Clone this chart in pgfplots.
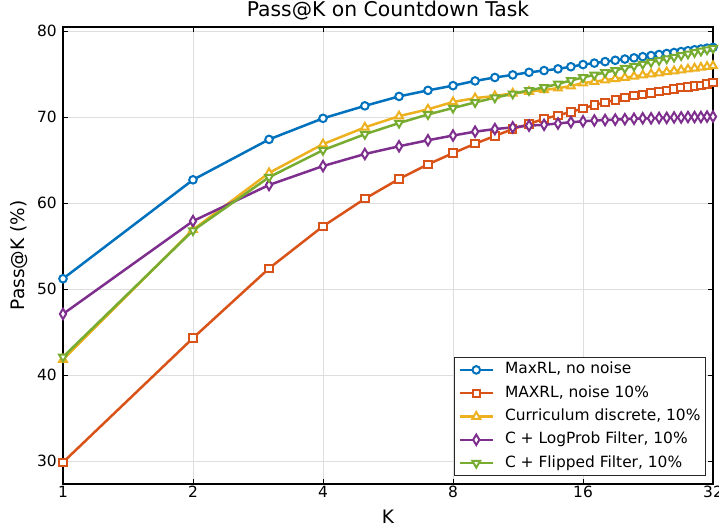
\documentclass[border=0pt]{standalone}
\usepackage{fontspec}
\setmainfont{DejaVu Sans}
\usepackage{pgfplots}
\pgfplotsset{compat=1.18}
\usepackage{pgfplotstable}
\definecolor{cblue}{HTML}{0072BD}
\definecolor{cred}{HTML}{D95319}
\definecolor{corange}{HTML}{EDB120}
\definecolor{cpurple}{HTML}{7E2F8E}
\definecolor{cgreen}{HTML}{77AC30}

\pgfplotstableread{
K b r o p g
1 51.2 29.85 41.8 47.1 42.1
2 62.7 44.3 56.9 57.9 56.8
3 67.4 52.4 63.5 62.1 63.0
4 69.85 57.3 66.85 64.3 66.15
5 71.3 60.5 68.8 65.7 68.0
6 72.4 62.8 70.1 66.6 69.3
7 73.1 64.5 70.9 67.3 70.3
8 73.65 65.8 71.75 67.85 71.05
9 74.2 66.9 72.2 68.3 71.7
10 74.6 67.8 72.45 68.6 72.25
11 74.9 68.6 72.75 68.8 72.7
12 75.2 69.2 72.95 69.0 73.1
13 75.4 69.8 73.15 69.1 73.45
14 75.6 70.2 73.35 69.25 73.85
15 75.85 70.6 73.6 69.4 74.25
16 76.1 71.0 73.95 69.5 74.6
17 76.27 71.4 74.12 69.6 74.9
18 76.44 71.7 74.29 69.65 75.18
19 76.6 72.0 74.45 69.7 75.44
20 76.74 72.3 74.59 69.75 75.69
21 76.88 72.5 74.73 69.8 75.93
22 77.02 72.65 74.87 69.85 76.16
23 77.15 72.8 75.0 69.85 76.38
24 77.27 73.0 75.12 69.9 76.59
25 77.39 73.1 75.24 69.9 76.79
26 77.5 73.25 75.35 69.95 76.98
27 77.61 73.4 75.46 69.95 77.17
28 77.71 73.5 75.56 70.0 77.35
29 77.82 73.6 75.67 70.0 77.52
30 77.91 73.7 75.76 70.0 77.68
31 78.01 73.85 75.86 70.05 77.84
32 78.1 74.0 75.95 70.05 78.0
}\data

\begin{document}
\begin{tikzpicture}
\path[use as bounding box] (0,0) rectangle (719bp,525bp);
\begin{axis}[
  at={(63bp,41bp)}, anchor=south west,
  width=650bp, height=457bp, scale only axis,
  xmode=log, log basis x=2, xmin=1, xmax=32,
  ymin=27.33, ymax=80.47,
  xtick={1,2,4,8,16,32}, xticklabels={1,2,4,8,16,32},
  ytick={30,40,50,60,70,80},
  xminorticks=false, yminorticks=false,
  tick align=inside,
  major tick length=5bp,
  tick style={black, line width=0.9bp},
  axis line style={black, line width=1.3bp},
  grid=major, grid style={line width=0.8bp, color=black!13},
  /pgf/number format/assume math mode=true,
  ticklabel style={font=\fontsize{15.5}{18}\selectfont},
  xticklabel style={yshift=1.5bp},
  yticklabel style={xshift=-2.8bp},
  title={Pass@K on Countdown Task},
  title style={font=\fontsize{20.4}{24}\selectfont, at={(axis description cs:0.5,1)}, anchor=base, yshift=5bp},
  xlabel={K}, ylabel={Pass@K (\%)},
  xlabel style={font=\fontsize{18.6}{22}\selectfont, at={(axis description cs:0.5,0)}, anchor=center, yshift=-32.7bp},
  ylabel style={font=\fontsize{18.6}{22}\selectfont, at={(axis description cs:0,0.5)}, anchor=center, yshift=43.5bp},
  every axis plot/.append style={line width=2.5bp},
  legend style={at={(axis description cs:0.989,0.0175)}, anchor=south east,
    draw=black!85, line width=0.8bp, fill=white,
    font=\fontsize{15.5}{18}\selectfont,
    inner xsep=4bp, inner ysep=4bp, row sep=6.3bp, column sep=10bp,
    nodes={text height=11.5bp, text depth=3.5bp, inner sep=1bp},
    cells={anchor=west}},
  legend image code/.code={\draw[mark repeat=2,mark phase=2,#1] plot coordinates {(0bp,0bp) (16.5bp,0bp) (33bp,0bp)};},
]
\addplot[cblue, mark=*, mark size=3.8bp, mark options={fill=white, solid, line width=2bp}] table[x=K,y=b] {\data};
\addlegendentry{MaxRL, no noise}
\addplot[cred, mark=square*, mark size=3.7bp, mark options={fill=white, solid, line width=2bp}] table[x=K,y=r] {\data};
\addlegendentry{MAXRL, noise 10\%}
\addplot[corange, mark=triangle*, mark size=4.5bp, mark options={fill=white, solid, line width=2bp}] table[x=K,y=o] {\data};
\addlegendentry{Curriculum discrete, 10\%}
\addplot[cpurple, mark=diamond*, mark size=5.2bp, mark options={fill=white, solid, line width=2bp, xscale=0.8}] table[x=K,y=p] {\data};
\addlegendentry{C + LogProb Filter, 10\%}
\addplot[cgreen, mark=triangle*, mark size=4.5bp, mark options={fill=white, solid, line width=2bp, rotate=180}] table[x=K,y=g] {\data};
\addlegendentry{C + Flipped Filter, 10\%}
\end{axis}
\end{tikzpicture}
\end{document}
